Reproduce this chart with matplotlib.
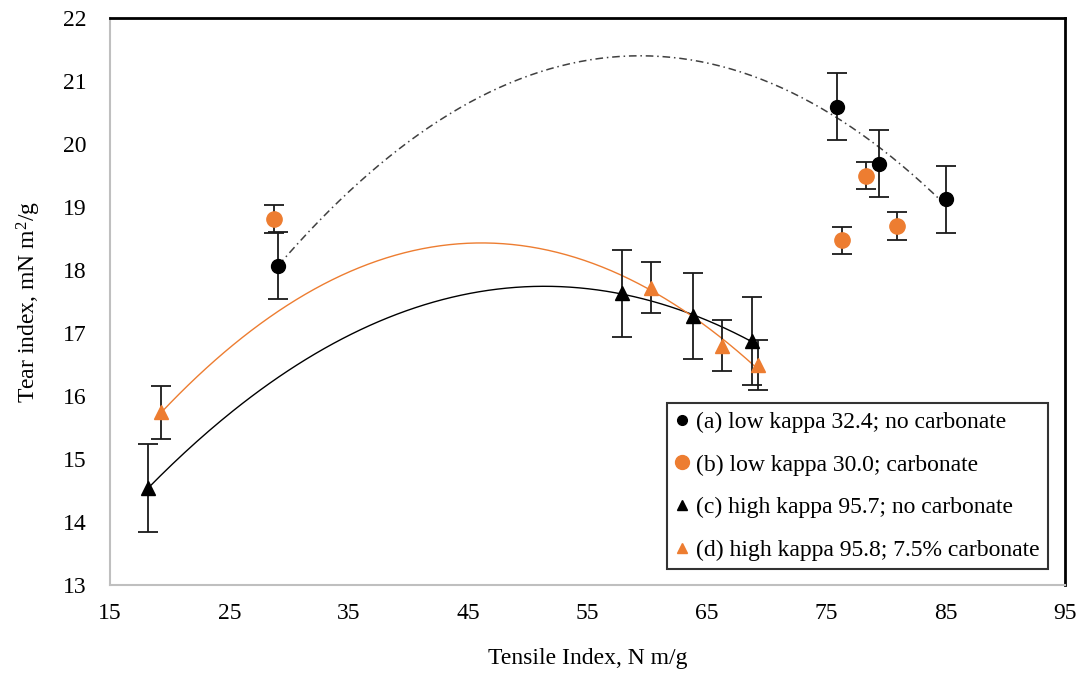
import numpy as np
import matplotlib
matplotlib.use('Agg')
import matplotlib.pyplot as plt
from matplotlib.lines import Line2D

plt.rcParams['font.family'] = ['Liberation Serif', 'DejaVu Serif']
plt.rcParams['mathtext.fontset'] = 'custom'
plt.rcParams['mathtext.rm'] = 'Liberation Serif'
plt.rcParams['mathtext.it'] = 'Liberation Serif:italic'

ORANGE = '#ED7D31'

# (a) low kappa 32.4; no carbonate
a_x   = [29.1, 75.9, 79.4, 85.0]
a_y   = [18.07, 20.59, 19.69, 19.12]
a_err = [0.53, 0.53, 0.53, 0.53]

# (b) low kappa 30.0; carbonate
b_x   = [28.7, 76.3, 78.3, 80.9]
b_y   = [18.81, 18.47, 19.50, 18.70]
b_err = [0.22, 0.22, 0.22, 0.22]

# (c) high kappa 95.7; no carbonate
c_x   = [18.2, 57.9, 63.8, 68.8]
c_y   = [14.54, 17.63, 17.27, 16.87]
c_err = [0.70, 0.69, 0.69, 0.70]

# (d) high kappa 95.8; 7.5% carbonate
d_x   = [19.3, 60.3, 66.3, 69.3]
d_y   = [15.74, 17.72, 16.80, 16.49]
d_err = [0.42, 0.40, 0.41, 0.40]

labels = ['(a) low kappa 32.4; no carbonate',
          '(b) low kappa 30.0; carbonate',
          '(c) high kappa 95.7; no carbonate',
          '(d) high kappa 95.8; 7.5% carbonate']

x_ticks = [15, 25, 35, 45, 55, 65, 75, 85, 95]
y_ticks = [13, 14, 15, 16, 17, 18, 19, 20, 21, 22]

FS = 17

fig = plt.figure(figsize=(10.84, 6.75), dpi=100)
ax = fig.add_axes([0.1015, 0.1333, 0.881, 0.840])


def trend(xs, ys):
    # 2nd-order polynomial trendline over the data range
    coef = np.polyfit(xs, ys, 2)
    xx = np.linspace(min(xs), max(xs), 200)
    return xx, np.polyval(coef, xx)


xx, yy = trend(a_x, a_y)
ax.plot(xx, yy, color='#404040', lw=1.1, ls=(0, (5, 2.5, 1, 2.5)), zorder=2)
xx, yy = trend(c_x, c_y)
ax.plot(xx, yy, color='black', lw=1.0, zorder=2)
xx, yy = trend(d_x, d_y)
ax.plot(xx, yy, color=ORANGE, lw=1.0, zorder=2)

eb = dict(ls='none', ecolor='#1a1a1a', elinewidth=1.3, capsize=7, capthick=1.3, zorder=3)
ax.errorbar(a_x, a_y, yerr=a_err, marker='o', ms=10, mfc='black', mec='black', **eb)
ax.errorbar(b_x, b_y, yerr=b_err, marker='o', ms=11, mfc=ORANGE, mec=ORANGE, **eb)
ax.errorbar(c_x, c_y, yerr=c_err, marker='^', ms=9.5, mfc='black', mec='black', **eb)
ax.errorbar(d_x, d_y, yerr=d_err, marker='^', ms=9.5, mfc=ORANGE, mec=ORANGE, **eb)

ax.set_xlim(15, 95)
ax.set_ylim(13, 22)
ax.set_xticks(x_ticks)
ax.set_yticks(y_ticks)
ax.tick_params(length=0, labelsize=FS)
ax.tick_params(axis='x', pad=13)
ax.tick_params(axis='y', pad=17)

for side in ('left', 'bottom'):
    ax.spines[side].set_color('#BFBFBF')
    ax.spines[side].set_linewidth(1.5)
for side in ('top', 'right'):
    ax.spines[side].set_color('black')
    ax.spines[side].set_linewidth(2.0)

ax.set_xlabel('Tensile Index, N m/g', fontsize=FS, labelpad=17)
ax.set_ylabel('Tear index, mN m$^2$/g', fontsize=FS, labelpad=14)

handles = [
    Line2D([], [], ls='none', marker='o', ms=7, color='black'),
    Line2D([], [], ls='none', marker='o', ms=10, color=ORANGE),
    Line2D([], [], ls='none', marker='^', ms=7, color='black'),
    Line2D([], [], ls='none', marker='^', ms=7, color=ORANGE),
]
leg = ax.legend(handles, labels, loc='upper left', bbox_to_anchor=(0.583, 0.321),
                borderaxespad=0, fontsize=FS, frameon=True, fancybox=False,
                handlelength=0.6, handletextpad=0.3, labelspacing=0.9,
                borderpad=0.35)
leg.get_frame().set_edgecolor('black')
leg.get_frame().set_linewidth(1.5)

plt.savefig('out.png', dpi=100)
